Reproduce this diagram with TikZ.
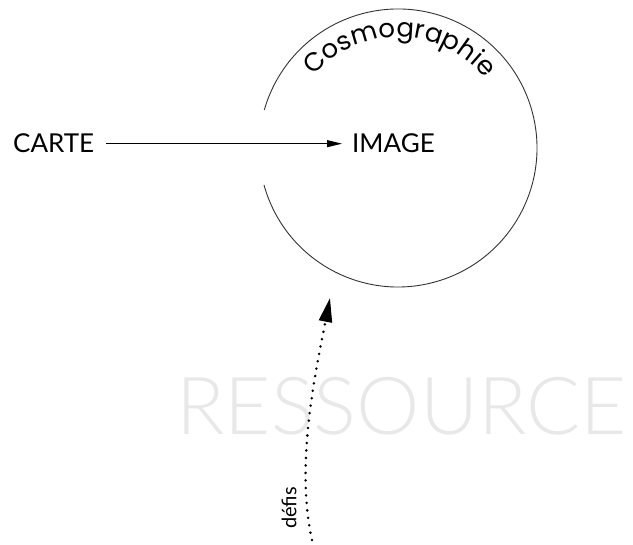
\documentclass[tikz,border=0pt]{standalone}
\usepackage{fontspec}
\setmainfont{Lato}
\newfontfamily\lightfont{Lato Light}
\newfontfamily\geofont{Poppins}
\usetikzlibrary{arrows.meta,decorations.text}
\tikzset{
  label/.style={inner sep=0pt, font=\fontsize{26}{26}\selectfont},
  ring/.style={line width=0.9pt, draw=black!80},
  mainarrow/.style={line width=0.9pt, -{Triangle[length=15pt,width=7pt]}, shorten <=12pt, shorten >=10pt},
  dotarrow/.style={line width=2.8pt, line cap=round, dash pattern=on 0pt off 7.5pt, -{Triangle[length=24pt,width=13pt]}},
  watermark/.style={inner sep=0pt, text=black!9, font=\lightfont\fontsize{80}{80}\selectfont},
  small/.style={inner sep=0pt, font=\fontsize{20}{20}\selectfont}
}
\begin{document}
\begin{tikzpicture}[x=1pt,y=1pt]
\useasboundingbox (0,0) rectangle (633,545);
\coordinate (c) at (398,397);
% circle with a gap on the left
\draw[ring] (c) ++(195.4:139) arc[start angle=195.4, end angle=524.1, radius=139];
% curved title
\path[decorate, decoration={text along path, text align=center,
  text={|\geofont\fontsize{26}{26}\selectfont|Cosmographie}}]
  (c) ++(150:111) arc[start angle=150, end angle=28, radius=111];
% labels
\node[label, anchor=base west] (carte) at (13,392) {CARTE};
\node[label, anchor=base west] (image) at (352,392) {IMAGE};
\draw[mainarrow] (carte.east) -- (image.west);
% watermark
\node[watermark] (ressource) at (401.5,139) {RESSOURCE};
% dotted arrow
\coordinate (dstart) at (312,5);
\coordinate (dtip) at (330,247);
\draw[dotarrow] (dstart) .. controls (295,80) and (316,175) .. (dtip);
\node[small, rotate=90] (defis) at (289,37) {défis};
\end{tikzpicture}
\end{document}
